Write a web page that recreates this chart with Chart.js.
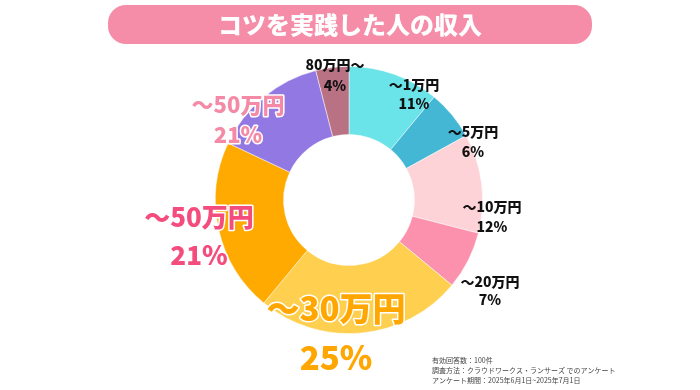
<!DOCTYPE html>
<html><head><meta charset="utf-8">
<script src="https://cdn.jsdelivr.net/npm/chart.js@4.4.1/dist/chart.umd.min.js"></script>
<style>
html,body{margin:0;padding:0;background:#fff;}
#wrap{width:700px;height:390px;position:relative;}
</style></head>
<body><div id="wrap"><canvas id="c" width="700" height="390"></canvas></div>
<script>
const title = 'コツを実践した人の収入';
const categories = ['〜1万円','〜5万円','〜10万円','〜20万円','〜30万円','〜50万円','〜50万円','80万円〜'];
const values = [11, 6, 12, 7, 25, 21, 14, 4];
const percentLabels = ['11%','6%','12%','7%','25%','21%','21%','4%'];
const sliceColors = ['#6ae4e9','#44b7d5','#fed3d7','#fc91ae','#ffd04f','#ffaa00','#9278e3','#b87284'];
const footnotes = ['有効回答数：100件','調査方法：クラウドワークス・ランサーズ でのアンケート','アンケート期間：2025年6月1日~2025年7月1日'];

// label styling: offsets from donut centre (line1 y, line2 y), font sizes, colours
const labelStyles = [
  {dx:65,  y1:-115, y2:-96, size:14, color:'#111', stroke:false},
  {dx:124, y1:-68,  y2:-48, size:14, color:'#111', stroke:false},
  {dx:143, y1:7,    y2:27,  size:14, color:'#111', stroke:false},
  {dx:141, y1:82,   y2:100, size:14, color:'#111', stroke:false},
  {dx:-13, y1:108,  y2:157, size:33, color:'#ffa600', stroke:true},
  {dx:-150,y1:17,   y2:55,  size:26, color:'#f34c7d', stroke:true},
  {dx:-111,y1:-95,  y2:-65, size:22, color:'#f48aa6', stroke:true},
  {dx:-14, y1:-135, y2:-114,size:14, color:'#111', stroke:false}
];
const FONT = '"Noto Sans CJK JP","Noto Sans",sans-serif';

function roundRect(ctx,x,y,w,h,r){
  ctx.beginPath();
  ctx.moveTo(x+r,y);ctx.lineTo(x+w-r,y);ctx.arcTo(x+w,y,x+w,y+r,r);
  ctx.lineTo(x+w,y+h-r);ctx.arcTo(x+w,y+h,x+w-r,y+h,r);
  ctx.lineTo(x+r,y+h);ctx.arcTo(x,y+h,x,y+h-r,r);
  ctx.lineTo(x,y+r);ctx.arcTo(x,y,x+r,y,r);ctx.closePath();
}

const decor = {
  id:'decor',
  beforeDraw(chart){
    const ctx = chart.ctx;
    ctx.save();
    ctx.fillStyle = '#f58ca8';
    roundRect(ctx,108,5,484,39,18);
    ctx.fill();
    ctx.fillStyle = '#fff';
    ctx.font = '900 24px '+FONT;
    ctx.textAlign='center';ctx.textBaseline='middle';
    ctx.fillText(title,350,25);
    ctx.restore();
  },
  afterDraw(chart){
    const ctx = chart.ctx;
    const meta = chart.getDatasetMeta(0);
    ctx.save();
    ctx.textAlign='center';ctx.textBaseline='middle';
    meta.data.forEach((arc,i)=>{
      const s = labelStyles[i];
      const x = arc.x + s.dx;
      ctx.font = '900 '+s.size+'px '+FONT;
      [[categories[i],arc.y+s.y1],[percentLabels[i],arc.y+s.y2]].forEach(([t,y])=>{
        if(s.stroke){ctx.lineWidth=3;ctx.strokeStyle='#fff';ctx.lineJoin='round';ctx.strokeText(t,x,y);}
        ctx.fillStyle=s.color;ctx.fillText(t,x,y);
      });
    });
    ctx.font = '7px '+FONT;
    ctx.fillStyle='#444';
    ctx.textAlign='left';
    footnotes.forEach((t,i)=>ctx.fillText(t,432,360+i*10));
    ctx.restore();
  }
};

new Chart(document.getElementById('c'),{
  type:'doughnut',
  data:{labels:categories,datasets:[{data:values,backgroundColor:sliceColors,borderColor:'rgba(255,255,255,0.6)',borderWidth:0.8}]},
  options:{
    responsive:false,animation:false,
    cutout:'49%',
    layout:{padding:{left:215,right:217,top:66,bottom:56}},
    plugins:{legend:{display:false},tooltip:{enabled:false},title:{display:false}}
  },
  plugins:[decor]
});
</script></body></html>
